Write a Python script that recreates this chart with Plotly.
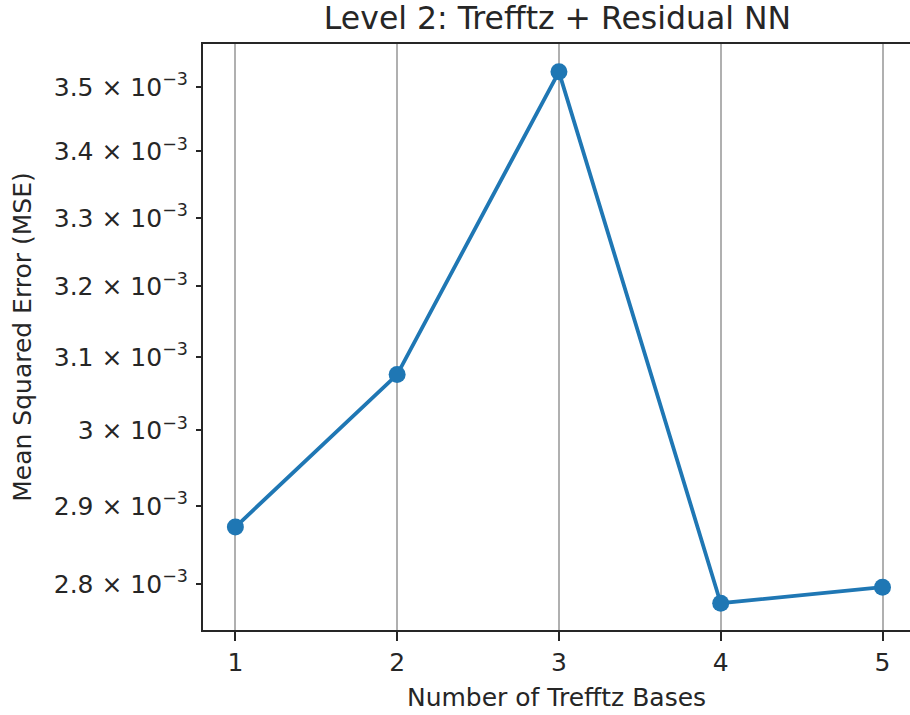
import plotly.graph_objects as go

num_bases = [1, 2, 3, 4, 5]
mse = [2.8725e-3, 3.076e-3, 3.5235e-3, 2.776e-3, 2.796e-3]
ytick_vals = [2.8e-3, 2.9e-3, 3.0e-3, 3.1e-3, 3.2e-3, 3.3e-3, 3.4e-3, 3.5e-3]
ytick_text = ["2.8 × 10<sup>−3</sup>", "2.9 × 10<sup>−3</sup>", "3 × 10<sup>−3</sup>",
              "3.1 × 10<sup>−3</sup>", "3.2 × 10<sup>−3</sup>", "3.3 × 10<sup>−3</sup>",
              "3.4 × 10<sup>−3</sup>", "3.5 × 10<sup>−3</sup>"]

FONT = "DejaVu Sans"
W, H = 910, 715

fig = go.Figure()
fig.add_trace(go.Scatter(
    x=num_bases, y=mse, mode="lines+markers",
    line=dict(color="#1f77b4", width=3.8),
    marker=dict(color="#1f77b4", size=17),
    showlegend=False, cliponaxis=False,
))

fig.update_layout(
    width=W, height=H,
    margin=dict(l=203, r=0, t=44, b=85, autoexpand=False),
    paper_bgcolor="white", plot_bgcolor="white",
    font=dict(family=FONT, size=25, color="#262626"),
    title=dict(text="Level 2: Trefftz + Residual NN", x=557.5/W, xanchor="center",
               y=1 - 18/H, yanchor="middle", yref="container",
               font=dict(family=FONT, size=31.5, color="#262626")),
    xaxis=dict(
        range=[0.8, 5.17], tickvals=num_bases, ticktext=[str(v) for v in num_bases],
        showgrid=True, gridcolor="#b0b0b0", gridwidth=2,
        showline=True, linecolor="#262626", linewidth=2, mirror=True,
        ticks="outside", ticklen=9, tickwidth=2, tickcolor="#262626",
        zeroline=False, automargin=False,
        title=dict(text="Number of Trefftz Bases", standoff=12, font=dict(size=25)),
    ),
    yaxis=dict(
        type="log", range=[-2.5618, -2.4476],
        tickvals=ytick_vals, ticktext=ytick_text,
        showgrid=False,
        showline=True, linecolor="#262626", linewidth=2,
        ticks="outside", ticklen=5, tickwidth=1.5, tickcolor="#262626",
        zeroline=False, ticklabelstandoff=3, automargin=False,
        title=dict(text="Mean Squared Error (MSE)", standoff=15, font=dict(size=25)),
    ),
)

fig.write_html(
    "out.html",
    config={"displayModeBar": False},
    post_script="document.body.style.margin='0';document.body.style.overflow='hidden';",
)
